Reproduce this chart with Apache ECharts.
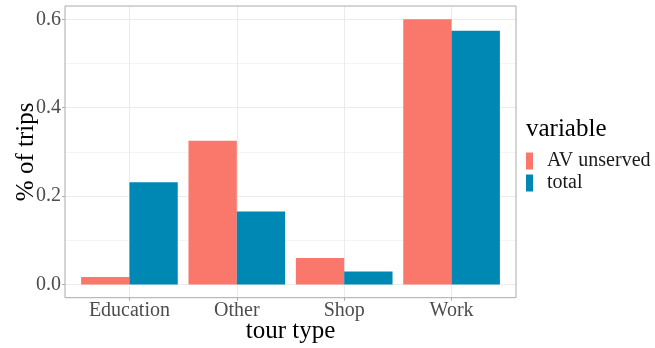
<!DOCTYPE html>
<html>
<head>
<meta charset="utf-8">
<script src="https://cdn.jsdelivr.net/npm/echarts@6/dist/echarts.min.js"></script>
<style>
  html, body { margin: 0; padding: 0; background: #fff; }
  #chart { width: 655px; height: 348px; }
</style>
</head>
<body>
<div id="chart"></div>
<script>
// Share of trips by tour type
const categories = ['Education', 'Other', 'Shop', 'Work'];
const avUnserved = [0.017, 0.325, 0.060, 0.600];
const total = [0.231, 0.165, 0.029, 0.574];
const seriesNames = ['AV unserved', 'total'];
const seriesColors = ['#FA776C', '#0088B5'];
const yMin = 0, yMax = 0.6, yStep = 0.2;

const FONT = '"Liberation Serif", "DejaVu Serif", serif';

// Panel box (pixels inside the 655x348 canvas)
const W = 655, H = 348;
const panel = { left: 65, right: 516, top: 6, bottom: 297.7 };

// Continuous y: 5% padding of the data range on both ends
const yPad = (yMax - yMin) * 0.05;
const pxPerUnit = (panel.bottom - panel.top) / (yMax - yMin + 2 * yPad);
const yTop = panel.top + yPad * pxPerUnit;
const yBottom = panel.bottom - yPad * pxPerUnit;

// Discrete x: 0.6 of a category slot padding on both ends
const slot = (panel.right - panel.left) / (categories.length - 1 + 1.2);
const barsLeft = panel.left + 0.1 * slot;
const barsRight = panel.right - 0.1 * slot;
const centersLeft = panel.left + 0.6 * slot;
const centersRight = panel.right - 0.6 * slot;

const grey = '#ABABAB';
const labelColor = '#4D4D4D';

// grid placed exactly at the given box, never shrunk to fit labels
const box = (left, right, top, bottom, extra) => Object.assign({
  left: left, right: W - right, top: top, bottom: H - bottom,
  containLabel: false, outerBoundsMode: 'none'
}, extra || {});

// helper axis that only sets the coordinate frame of a grid
const hiddenValueAxis = idx => ({ gridIndex: idx, type: 'value', min: 0, max: 1, show: false,
                                  axisLine: { onZero: false } });

const chart = echarts.init(document.getElementById('chart'), null, { renderer: 'canvas' });

chart.setOption({
  animation: false,
  backgroundColor: '#fff',
  textStyle: { fontFamily: FONT },
  title: {
    text: 'variable',
    left: 526,
    top: 117,
    padding: 0,
    textStyle: { fontFamily: FONT, fontSize: 25, fontWeight: 'normal', color: '#000' }
  },
  legend: {
    data: seriesNames,
    orient: 'vertical',
    left: 526,
    top: 151,
    padding: 0,
    icon: 'rect',
    itemWidth: 7,
    itemHeight: 17,
    itemGap: 2,
    textStyle: { fontFamily: FONT, fontSize: 20, color: '#1A1A1A', lineHeight: 17, padding: [0, 0, 0, 9] }
  },
  grid: [
    // panel frame
    box(panel.left, panel.right, panel.top, panel.bottom,
        { show: true, borderColor: grey, borderWidth: 1, backgroundColor: 'transparent', z: 5 }),
    // y scale spanning the panel width
    box(panel.left, panel.right, yTop, yBottom),
    // category centres spanning the panel height
    box(centersLeft, centersRight, panel.top, panel.bottom),
    // bars
    box(barsLeft, barsRight, yTop, yBottom)
  ],
  xAxis: [
    hiddenValueAxis(0),
    hiddenValueAxis(1),
    {
      gridIndex: 2, type: 'category', data: categories, boundaryGap: false,
      position: 'bottom',
      axisLine: { show: false, onZero: false },
      axisTick: { show: true, length: 3, lineStyle: { color: grey } },
      axisLabel: { color: labelColor, fontSize: 20, fontFamily: FONT, margin: 3 },
      splitLine: { show: true, lineStyle: { color: '#EBEBEB', width: 1 } },
      name: 'tour type',
      nameLocation: 'middle',
      nameGap: 21,
      nameMoveOverlap: false,
      nameTextStyle: { color: '#000', fontSize: 25, fontFamily: FONT }
    },
    { gridIndex: 3, type: 'category', data: categories, show: false, axisLine: { onZero: false } }
  ],
  yAxis: [
    hiddenValueAxis(0),
    {
      gridIndex: 1, type: 'value', min: yMin, max: yMax, interval: yStep,
      position: 'left',
      axisLine: { show: false, onZero: false },
      axisTick: { show: true, length: 3, lineStyle: { color: grey } },
      axisLabel: { color: labelColor, fontSize: 20, fontFamily: FONT, margin: 4,
                   formatter: v => v.toFixed(1) },
      splitLine: { show: true, lineStyle: { color: '#EBEBEB', width: 1 } },
      minorTick: { show: false, splitNumber: 2 },
      minorSplitLine: { show: true, lineStyle: { color: '#F4F4F4', width: 1 } },
      name: '% of trips',
      nameLocation: 'middle',
      nameGap: 26,
      nameMoveOverlap: false,
      nameTextStyle: { color: '#000', fontSize: 25, fontFamily: FONT }
    },
    hiddenValueAxis(2),
    { gridIndex: 3, type: 'value', min: yMin, max: yMax, show: false, axisLine: { onZero: false } }
  ],
  series: [
    {
      name: seriesNames[0], type: 'bar', xAxisIndex: 3, yAxisIndex: 3,
      data: avUnserved, itemStyle: { color: seriesColors[0] },
      barGap: '0%', barCategoryGap: '10%'
    },
    {
      name: seriesNames[1], type: 'bar', xAxisIndex: 3, yAxisIndex: 3,
      data: total, itemStyle: { color: seriesColors[1] },
      barGap: '0%', barCategoryGap: '10%'
    }
  ]
});
</script>
</body>
</html>
